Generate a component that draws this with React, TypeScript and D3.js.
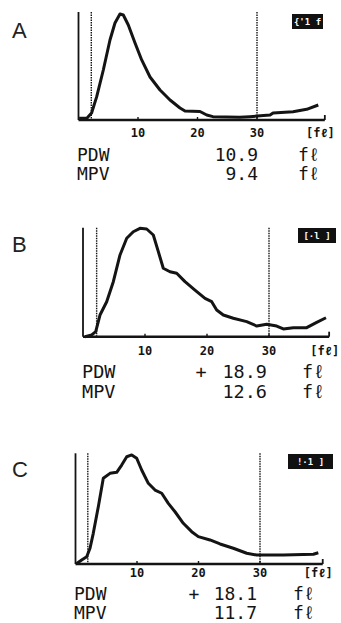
import React from "react";
import * as d3 from "d3";

// histogram traces: [volume fL, relative count 0-100]
const curveA: [number, number][] = [
  [0.1, 1.6], [1.4, 1.6], [2.2, 6.5], [3.06, 21.6], [4.17, 46.3], [5.29, 74.1],
  [6.13, 89.8], [6.97, 98.1], [7.53, 97.2], [8.37, 88.0], [9.5, 71.3], [10.62, 55.6],
  [12.02, 39.8], [13.7, 27.8], [15.38, 18.5], [17.06, 11.1], [17.9, 8.3], [20.42, 7.9],
  [21.55, 4.6], [22.6, 3.1], [27.1, 2.5], [28.8, 3.1], [32.2, 4.6], [32.7, 6.5],
  [36.05, 7.7], [38.35, 9.9], [40.3, 13.9],
];
const curveB: [number, number][] = [
  [0.32, 0], [1.4, 1.6], [2.05, 4.6], [2.74, 19.9], [3.82, 32.1], [4.89, 50.5],
  [5.97, 75.0], [7.05, 90.3], [8.11, 96.3], [9.19, 99.4], [10.27, 98.8], [11.34, 93.3],
  [12.15, 78.0], [12.95, 62.8], [14.03, 59.6], [15.11, 58.2], [16.45, 50.5], [18.06, 42.8],
  [19.68, 35.2], [20.76, 32.1], [21.56, 24.5], [22.63, 19.9], [24.24, 16.9], [26.4, 13.8],
  [28.02, 9.8], [29.63, 11.4], [31.24, 9.8], [32.31, 7.1], [33.92, 8.3], [36.08, 8.3],
  [37.69, 13.2], [39.19, 17.4],
];
const curveC: [number, number][] = [
  [0.08, 0], [1.0, 3.6], [1.82, 6.6], [2.36, 14.2], [2.89, 27.7], [3.71, 51.8],
  [4.52, 77.4], [5.61, 81.9], [6.7, 82.8], [7.51, 89.4], [8.33, 96.9], [9.14, 98.5],
  [9.95, 95.5], [10.76, 84.9], [11.84, 72.9], [12.93, 66.8], [14.02, 63.9], [15.09, 54.8],
  [16.18, 47.2], [17.53, 36.8], [18.89, 29.2], [19.97, 24.7], [21.87, 21.7], [23.5, 18.1],
  [25.66, 14.2], [27.84, 9.7], [29.46, 8.1], [33.79, 8.1], [38.67, 8.8], [39.48, 10.2],
];

const panelLabels = ["A", "B", "C"];
const curves = [curveA, curveB, curveC];
const xTicks = [10, 20, 30];
const lowerGate = [2.15, 2.2, 2.0];
const upperGate = 30;
const axisMax = [41.4, 39.7, 40.2];
const pdwFlags = ["", "+", "+"];
const pdwValues = ["10.9", "18.9", "18.1"];
const mpvValues = ["9.4", "12.6", "11.7"];
const badgeTexts = ["{'1 f", "[·l ]", "!·1 ]"];
const unitLabel = "fℓ";

// placement of each printout on the scanned page
const layout = [
  { x0: 78.5, x30: 257, base: 120, top: 12, tickY: 137, pdwY: 161, mpvY: 180, labelY: 38, textX: 77, valX: 258, plusX: 201, unitX: 298, fs: 18, badge: [292, 14, 31, 15] },
  { x0: 83, x30: 269, base: 336.7, top: 227.7, tickY: 355, pdwY: 378, mpvY: 398, labelY: 252, textX: 82, valX: 267, plusX: 201, unitX: 302, fs: 18.5, badge: [298, 228, 38, 15] },
  { x0: 75.5, x30: 260, base: 564, top: 453.3, tickY: 577, pdwY: 600, mpvY: 619, labelY: 477, textX: 74, valX: 257, plusX: 194, unitX: 293, fs: 18, badge: [288, 454, 45, 15] },
];

const ink = "#141414";
const mono = "'DejaVu Sans Mono', 'Liberation Mono', monospace";

function Panel({ i }: { i: number }) {
  const L = layout[i];
  const x = d3.scaleLinear().domain([0, upperGate]).range([L.x0, L.x30]);
  const y = d3.scaleLinear().domain([0, 100]).range([L.base, L.top]);
  const line = d3.line<[number, number]>().x((d) => x(d[0])).y((d) => y(d[1]));
  const xEnd = x(axisMax[i]);
  const [bx, by, bw, bh] = L.badge;
  const gap = L.mpvY - L.pdwY;

  return (
    <g>
      <text x={12} y={L.labelY} fontFamily="'Liberation Sans', Arial, sans-serif" fontSize={22} fill="#222">
        {panelLabels[i]}
      </text>

      {/* left axis */}
      <line x1={x(0)} x2={x(0)} y1={y(100)} y2={y(0)} stroke={ink} strokeWidth={1.8} />
      {/* gates */}
      <line x1={x(lowerGate[i])} x2={x(lowerGate[i])} y1={y(100)} y2={y(0)} stroke={ink} strokeWidth={1.4} strokeDasharray="1.5,1" />
      <line x1={x(upperGate)} x2={x(upperGate)} y1={y(100)} y2={y(0)} stroke={ink} strokeWidth={1.4} strokeDasharray="1.5,1" />
      {/* baseline */}
      <line x1={x(0)} x2={xEnd} y1={y(0)} y2={y(0)} stroke={ink} strokeWidth={2.4} />
      <line x1={xEnd} x2={xEnd} y1={y(0)} y2={y(0) - 5} stroke={ink} strokeWidth={1.8} />
      {xTicks.map((t) => (
        <line key={t} x1={x(t)} x2={x(t)} y1={y(0)} y2={y(0) - 3} stroke={ink} strokeWidth={1.4} />
      ))}

      <path d={line(curves[i]) || ""} fill="none" stroke={ink} strokeWidth={3} strokeLinejoin="round" />

      {xTicks.map((t) => (
        <text key={t} x={x(t)} y={L.tickY} textAnchor="middle" fontFamily={mono} fontWeight="bold" fontSize={12} fill={ink}>
          {t}
        </text>
      ))}
      <text x={xEnd + 10} y={L.tickY} textAnchor="end" fontFamily={mono} fontWeight="bold" fontSize={12} fill={ink}>
        [{unitLabel}]
      </text>

      <rect x={bx} y={by} width={bw} height={bh} fill="#111" />
      <text x={bx + bw / 2} y={by + bh - 4} textAnchor="middle" fontFamily={mono} fontWeight="bold" fontSize={9} fill="#fff">
        {badgeTexts[i]}
      </text>

      <g fontFamily={mono} fontSize={L.fs} fill={ink}>
        <text x={L.textX} y={L.pdwY}>
          <tspan x={L.textX}>PDW</tspan>
          <tspan x={L.textX} dy={gap}>MPV</tspan>
        </text>
        <text x={L.plusX} y={L.pdwY} textAnchor="middle">{pdwFlags[i]}</text>
        <text x={L.valX} y={L.pdwY} textAnchor="end">
          <tspan x={L.valX}>{pdwValues[i]}</tspan>
          <tspan x={L.valX} dy={gap}>{mpvValues[i]}</tspan>
        </text>
        <text x={L.unitX} y={L.pdwY}>
          <tspan x={L.unitX}>{unitLabel}</tspan>
          <tspan x={L.unitX} dy={gap}>{unitLabel}</tspan>
        </text>
      </g>
    </g>
  );
}

export default function App() {
  return (
    <svg width={341} height={623} viewBox="0 0 341 623" style={{ position: "absolute", left: 0, top: 0, background: "#fff" }}>
      <rect width={341} height={623} fill="#fff" />
      {panelLabels.map((_, i) => (
        <Panel key={i} i={i} />
      ))}
    </svg>
  );
}
